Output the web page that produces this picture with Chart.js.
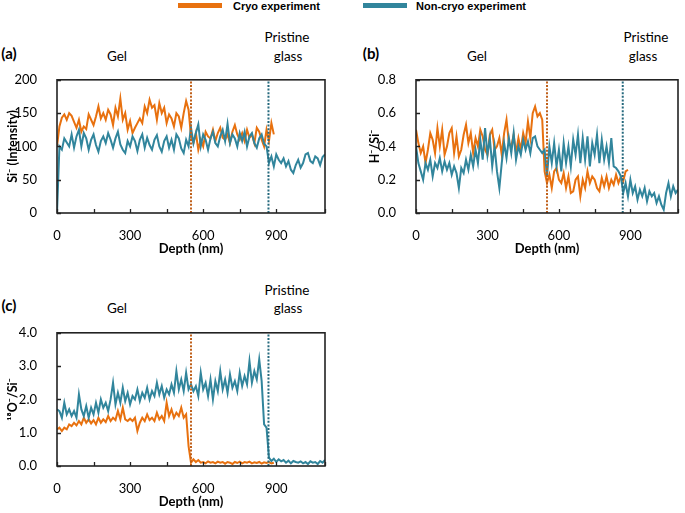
<!DOCTYPE html>
<html><head><meta charset="utf-8">
<script src="https://cdn.jsdelivr.net/npm/chart.js@4.4.0/dist/chart.umd.min.js"></script>
<style>
body{margin:0;width:685px;height:513px;background:#fff;position:relative;overflow:hidden;font-family:Lato,'Noto Sans',sans-serif}
.box{position:absolute}
.t{position:absolute;color:#000;white-space:nowrap;line-height:1;transform:translate(-50%,-50%)}
.lg{position:absolute;font:bold 11px 'Liberation Sans',Arial,sans-serif;color:#000;white-space:nowrap;line-height:1;transform:translateY(-50%)}
.sw{position:absolute;height:5px}
.pl{font-weight:bold;font-size:15px}
.an{font-size:13.5px}
</style></head><body>
<div class="sw" style="left:178px;top:3px;width:44px;background:#E8710F"></div>
<div class="lg" style="left:233px;top:6px">Cryo experiment</div>
<div class="sw" style="left:363px;top:3px;width:44px;background:#31859C"></div>
<div class="lg" style="left:416px;top:6px">Non-cryo experiment</div>

<div class="t pl" style="left:9px;top:53px">(a)</div>
<div class="t an" style="left:117px;top:57px">Gel</div>
<div class="t an" style="left:287px;top:38px">Pristine</div>
<div class="t an" style="left:288px;top:57px">glass</div>

<div class="t pl" style="left:371px;top:53px">(b)</div>
<div class="t an" style="left:477px;top:57px">Gel</div>
<div class="t an" style="left:646px;top:38px">Pristine</div>
<div class="t an" style="left:643px;top:57px">glass</div>

<div class="t pl" style="left:9px;top:305px">(c)</div>
<div class="t an" style="left:117px;top:309px">Gel</div>
<div class="t an" style="left:287px;top:291px">Pristine</div>
<div class="t an" style="left:288px;top:309px">glass</div>

<div class="box" style="left:0;top:60px;width:340px;height:200px"><canvas id="ca" width="340" height="200"></canvas></div>
<div class="box" style="left:362px;top:60px;width:323px;height:200px"><canvas id="cb" width="323" height="200"></canvas></div>
<div class="box" style="left:0;top:313px;width:340px;height:200px"><canvas id="cc" width="340" height="200"></canvas></div>

<script>
// ---------- data ----------
const DEPTH = [0,10,20,30,40,50,60,70,80,90,100,110,120,130,140,150,160,170,180,190,200,210,220,230,240,250,260,270,280,290,300,310,320,330,340,350,360,370,380,390,400,410,420,430,440,450,460,470,480,490,500,510,520,530,540,550,560,570,580,590,600,610,620,630,640,650,660,670,680,690,700,710,720,730,740,750,760,770,780,790,800,810,820,830,840,850,860,870,880,890,900,910,920,930,940,950,960,970,980,990,1000,1010,1020,1030,1040,1050,1060,1070,1080,1090,1100];

const X_TICK_LABELS = [0,300,600,900];
const CRYO_BOUNDARY = 550;     // nm, gel / glass limit (cryo)
const NONCRYO_BOUNDARY = 868;  // nm, gel / glass limit (non-cryo)

// (a) Si- intensity
const SI_CRYO = [100,130,143,148,140,150,146,137,128,140,
 122,130,126,148,140,132,145,160,142,150,
 140,155,148,132,158,145,172,140,150,125,
 138,120,128,135,142,135,160,150,170,158,
 162,140,165,150,158,135,148,142,130,150,
 145,128,150,168,155,115,105,120,95,110,
 100,122,115,112,125,108,120,128,113,110,
 118,105,122,132,118,110,120,108,125,113,
 118,105,128,122,110,100,125,108,135,118];
const SI_NONCRYO = [0,100,95,112,106,100,118,98,115,125,
 100,120,112,95,110,118,102,92,108,115,
 105,120,110,98,112,122,103,95,90,108,
 100,115,108,93,110,118,98,113,102,95,
 110,117,100,92,108,115,98,110,95,118,
 112,97,90,110,100,128,105,120,133,100,
 118,110,95,112,122,105,100,115,125,108,
 134,105,118,112,100,120,108,122,100,115,
 120,105,98,112,118,104,100,75,85,70,
 88,80,75,82,70,78,65,60,72,80,
 68,75,88,90,78,75,85,82,72,84,88];

// (b) H-/Si-
const H_CRYO = [0.50,0.42,0.36,0.40,0.30,0.38,0.48,0.44,0.36,0.51,
 0.40,0.50,0.35,0.40,0.48,0.51,0.36,0.46,0.34,0.38,
 0.47,0.53,0.42,0.48,0.36,0.45,0.40,0.50,0.46,0.38,
 0.35,0.47,0.50,0.38,0.40,0.45,0.35,0.48,0.56,0.42,
 0.40,0.47,0.36,0.45,0.38,0.48,0.42,0.55,0.45,0.60,
 0.64,0.58,0.60,0.56,0.25,0.18,0.23,0.15,0.25,0.27,
 0.20,0.18,0.24,0.15,0.22,0.12,0.13,0.20,0.22,0.10,
 0.20,0.15,0.25,0.18,0.22,0.20,0.15,0.13,0.21,0.16,
 0.22,0.15,0.20,0.17,0.23,0.18,0.22,0.19,0.25,0.26];
const H_NONCRYO = [0.40,0.30,0.25,0.20,0.30,0.26,0.32,0.22,0.30,0.27,
 0.33,0.25,0.31,0.26,0.30,0.23,0.28,0.24,0.15,0.27,
 0.24,0.32,0.26,0.35,0.28,0.38,0.30,0.44,0.32,0.51,
 0.35,0.45,0.28,0.40,0.25,0.15,0.30,0.42,0.33,0.45,
 0.36,0.48,0.32,0.40,0.35,0.44,0.38,0.43,0.36,0.45,
 0.46,0.40,0.38,0.36,0.38,0.22,0.40,0.30,0.42,0.28,
 0.38,0.25,0.42,0.30,0.40,0.28,0.44,0.35,0.47,0.30,
 0.45,0.32,0.46,0.28,0.42,0.35,0.47,0.30,0.44,0.32,
 0.40,0.30,0.45,0.28,0.27,0.25,0.22,0.12,0.18,0.10,
 0.20,0.12,0.16,0.08,0.14,0.10,0.15,0.07,0.13,0.10,
 0.12,0.06,0.10,0.05,0.02,0.12,0.18,0.10,0.16,0.12,0.14];

// (c) 18O-/Si-
const O_CRYO = [1.10,1.15,1.05,1.15,1.10,1.25,1.20,1.30,1.22,1.35,
 1.25,1.45,1.30,1.40,1.28,1.38,1.25,1.45,1.30,1.40,
 1.32,1.50,1.35,1.45,1.38,1.65,1.40,1.75,1.40,1.35,
 1.42,1.35,1.45,1.05,1.30,1.45,1.35,1.55,1.38,1.45,
 1.35,1.60,1.40,1.50,1.35,1.90,1.50,1.70,1.45,1.60,
 1.50,1.75,1.45,1.55,0.60,0.10,0.20,0.12,0.18,0.10,
 0.12,0.08,0.14,0.10,0.12,0.08,0.13,0.10,0.12,0.07,
 0.12,0.10,0.06,0.12,0.09,0.13,0.08,0.12,0.10,0.13,
 0.08,0.11,0.09,0.12,0.07,0.11,0.09,0.12,0.08,0.10];
const O_NONCRYO = [1.70,1.65,1.45,1.90,1.55,1.70,1.50,1.65,1.45,2.15,
 1.70,1.50,1.80,1.45,1.75,1.55,1.90,1.60,2.00,1.75,
 1.90,1.65,2.00,2.50,1.85,2.20,1.90,2.35,1.95,2.20,
 1.85,2.10,2.00,2.30,1.95,2.20,2.05,2.35,2.00,2.25,
 2.10,2.50,2.15,2.40,2.05,2.30,2.15,2.45,2.20,2.85,
 2.30,2.60,2.25,2.80,2.30,2.45,2.25,2.40,2.10,2.80,
 2.30,2.50,2.10,2.60,2.00,2.55,2.25,2.85,2.30,2.60,
 2.20,2.75,2.35,2.55,2.25,2.80,2.40,2.70,2.45,3.15,
 2.50,2.85,2.60,3.20,2.55,1.25,1.15,0.25,0.15,0.22,
 0.12,0.20,0.14,0.18,0.10,0.16,0.08,0.15,0.12,0.10,
 0.14,0.08,0.12,0.06,0.14,0.10,0.12,0.06,0.15,0.10,0.18];

// ---------- styles ----------
const ORANGE = '#E8710F', TEAL = '#31859C';
const ORANGE_DOT = '#C0601A', TEAL_DOT = '#25697D';
const FONT = "Lato, 'Noto Sans', sans-serif";

const pts = arr => arr.map((v,i)=>({x:DEPTH[i], y:v}));
const vline = (x, ymin, ymax, color) => ({data:[{x:x,y:ymin},{x:x,y:ymax}], borderColor:color, borderWidth:2, borderDash:[2,1.6], pointRadius:0, fill:false});

const frame = {
  id:'frame',
  afterDraw(chart){
    const {ctx, chartArea:a, scales:{x,y}} = chart;
    ctx.save();
    ctx.strokeStyle = '#222';
    ctx.lineWidth = 1.3;
    ctx.beginPath();
    x.ticks.forEach(t=>{const p=Math.round(x.getPixelForValue(t.value))+0.5; ctx.moveTo(p,a.bottom); ctx.lineTo(p,a.bottom-4);});
    y.ticks.forEach(t=>{const p=Math.round(y.getPixelForValue(t.value))+0.5; ctx.moveTo(a.left,p); ctx.lineTo(a.left+4,p);});
    ctx.stroke();
    ctx.lineWidth = 1.6;
    ctx.strokeRect(a.left, a.top, a.right-a.left, a.bottom-a.top);
    ctx.restore();
  }
};

function makeChart(id, cryo, noncryo, ymax, ystep, yfmt, ytitle, yw, padRight){
  const ymin = 0;
  new Chart(document.getElementById(id), {
    type:'line',
    data:{datasets:[
      vline(CRYO_BOUNDARY, ymin, ymax, ORANGE_DOT),
      vline(NONCRYO_BOUNDARY, ymin, ymax, TEAL_DOT),
      {data:pts(noncryo), borderColor:TEAL, borderWidth:2, pointRadius:0, tension:0, fill:false},
      {data:pts(cryo), borderColor:ORANGE, borderWidth:2, pointRadius:0, tension:0, fill:false}
    ]},
    options:{
      responsive:false, animation:false, devicePixelRatio:1,
      layout:{padding:{left:0, top:16, right:padRight, bottom:0}},
      plugins:{legend:{display:false}, tooltip:{enabled:false}},
      scales:{
        x:{type:'linear', min:0, max:1100,
           grid:{display:false}, border:{display:false},
           ticks:{stepSize:150, autoSkip:false, maxRotation:0, padding:7, color:'#000',
                  font:{family:FONT, size:13},
                  callback:v => X_TICK_LABELS.includes(v) ? String(v) : ''},
           title:{display:true, text:'Depth (nm)', color:'#000', font:{family:FONT, size:13, weight:'bold'}, padding:{top:0,bottom:3}},
           afterFit:s=>{s.height = 47;}
        },
        y:{type:'linear', min:ymin, max:ymax,
           grid:{display:false}, border:{display:false},
           ticks:{stepSize:ystep, padding:12, color:'#000', font:{family:FONT, size:13}, callback:yfmt},
           title:{display:true, text:ytitle, color:'#000', font:{family:FONT, size:12.5, weight:'bold'}, padding:{top:5,bottom:0}},
           afterFit:s=>{s.width = yw;}
        }
      }
    },
    plugins:[frame]
  });
}

makeChart('ca', SI_CRYO, SI_NONCRYO, 200, 50, v=>String(v), 'Si\u207B (Intensity)', 57, 15);
makeChart('cb', H_CRYO, H_NONCRYO, 0.8, 0.2, v=>v.toFixed(1), 'H\u207B/Si\u207B', 54, 1);
makeChart('cc', O_CRYO, O_NONCRYO, 4, 1, v=>v.toFixed(1), '\u00B9\u2078O\u207B/Si\u207B', 57, 15);
</script>
</body></html>
